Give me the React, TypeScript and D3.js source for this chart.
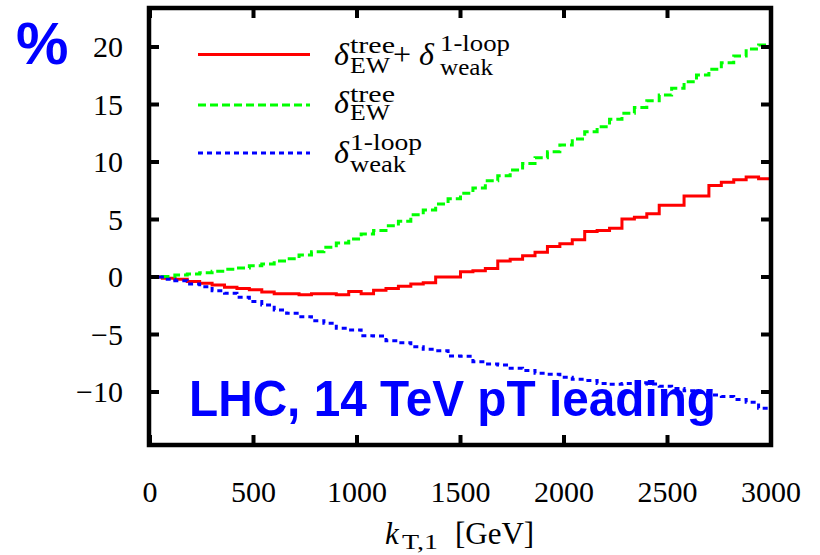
import React from "react";
import * as d3 from "d3";

// bin edges in GeV (60 GeV bins)
const kEdges = [0, 60, 120, 180, 240, 300, 360, 420, 480, 540, 600, 660, 720, 780, 840, 900, 960, 1020, 1080, 1140, 1200, 1260, 1320, 1380, 1440, 1500, 1560, 1620, 1680, 1740, 1800, 1860, 1920, 1980, 2040, 2100, 2160, 2220, 2280, 2340, 2400, 2460, 2520, 2580, 2640, 2700, 2760, 2820, 2880, 2940, 3000];

// delta_EW^tree + delta_weak^1-loop (%)
const redVals = [0, -0.1, -0.2, -0.4, -0.55, -0.7, -0.9, -1.0, -1.1, -1.3, -1.45, -1.45, -1.55, -1.45, -1.45, -1.55, -1.25, -1.45, -1.15, -1.0, -0.8, -0.6, -0.5, 0.0, 0.0, 0.45, 0.55, 0.75, 1.4, 1.55, 1.85, 2.15, 2.65, 2.9, 3.25, 3.95, 4.05, 4.25, 5.05, 5.2, 5.5, 6.25, 6.25, 7.05, 7.05, 7.95, 8.25, 8.45, 8.7, 8.55];

// delta_EW^tree (%)
const greenVals = [0.0, 0.05, 0.17, 0.26, 0.37, 0.5, 0.67, 0.78, 0.98, 1.13, 1.39, 1.59, 1.92, 2.2, 2.58, 2.95, 3.3, 3.75, 4.05, 4.45, 4.85, 5.42, 5.83, 6.35, 6.8, 7.28, 7.75, 8.37, 8.81, 9.3, 9.88, 10.37, 10.9, 11.48, 12.0, 12.64, 13.07, 13.71, 14.23, 14.75, 15.33, 15.83, 16.41, 16.98, 17.57, 18.06, 18.64, 19.22, 19.83, 20.17];

// delta_weak^1-loop (%)
const blueVals = [0, -0.2, -0.32, -0.6, -0.84, -1.19, -1.42, -1.77, -2.14, -2.43, -2.87, -3.16, -3.45, -3.8, -4.03, -4.46, -4.6, -5.1, -5.13, -5.54, -5.71, -6.06, -6.29, -6.41, -6.87, -6.9, -7.36, -7.56, -7.65, -7.94, -8.14, -8.38, -8.46, -8.72, -8.9, -9.01, -9.25, -9.33, -9.25, -9.2, -9.3, -9.5, -9.7, -9.9, -10.05, -10.26, -10.4, -10.65, -10.9, -11.42];

const xTicks = [0, 500, 1000, 1500, 2000, 2500, 3000];
const yTicks = [-10, -5, 0, 5, 10, 15, 20];

const W = 820;
const H = 555;
const left = 149;
const right = 771;
const top = 8;
const bottom = 445;

const x = d3.scaleLinear().domain([0, 3000]).range([150, 771]);
const y = d3.scaleLinear().domain([0, 20]).range([277, 47]);

function stepPath(vals: number[]) {
  const pts: [number, number][] = vals.map((v, i) => [kEdges[i], v]);
  pts.push([kEdges[vals.length], vals[vals.length - 1]]);
  return d3
    .line<[number, number]>()
    .x((d) => x(d[0]))
    .y((d) => y(d[1]))
    .curve(d3.curveStepAfter)(pts) as string;
}

const serif = "Liberation Serif, serif";
const sans = "Liberation Sans, Arial, sans-serif";

export default function App() {
  const tickLen = 10;
  return (
    <svg
      width={W}
      height={H}
      style={{ position: "absolute", left: 0, top: 0, background: "#fff" }}
    >
      <defs>
        <clipPath id="clip">
          <rect x={left} y={top} width={right - left} height={bottom - top} />
        </clipPath>
      </defs>
      <rect x={0} y={0} width={W} height={H} fill="#fff" />
      {/* curves */}
      <g clipPath="url(#clip)">
        <path d={stepPath(redVals)} fill="none" stroke="#ff0000" strokeWidth={3} />
        <path d={stepPath(greenVals)} fill="none" stroke="#00ff00" strokeWidth={3} strokeDasharray="8,4" />
        <path d={stepPath(blueVals)} fill="none" stroke="#0000ff" strokeWidth={3} strokeDasharray="5,4" />
      </g>
      {/* frame */}
      <rect x={left} y={top} width={right - left} height={bottom - top} fill="none" stroke="#000" strokeWidth={4.5} />
      {/* x ticks */}
      {xTicks.map((t) => (
        <g key={"xt" + t}>
          <line x1={x(t)} x2={x(t)} y1={bottom} y2={bottom - tickLen} stroke="#000" strokeWidth={4} />
          <line x1={x(t)} x2={x(t)} y1={top} y2={top + tickLen} stroke="#000" strokeWidth={4} />
          <text x={x(t)} y={502} textAnchor="middle" fontFamily={serif} fontSize={30} fill="#000">
            {t}
          </text>
        </g>
      ))}
      {/* y ticks */}
      {yTicks.map((t) => (
        <g key={"yt" + t}>
          <line x1={left} x2={left + tickLen} y1={y(t)} y2={y(t)} stroke="#000" strokeWidth={4} />
          <line x1={right} x2={right - tickLen} y1={y(t)} y2={y(t)} stroke="#000" strokeWidth={4} />
          <text x={123} y={y(t) + 10} textAnchor="end" fontFamily={serif} fontSize={30} fill="#000">
            {t < 0 ? "\u2212" + Math.abs(t) : String(t)}
          </text>
        </g>
      ))}
      {/* x axis title */}
      <text fontFamily={serif} fill="#000">
        <tspan x={385} y={544} fontSize={31} fontStyle="italic">k</tspan>
        <tspan x={402} y={549} fontSize={21} textLength={36} lengthAdjust="spacingAndGlyphs">T,1</tspan>
        <tspan x={455} y={544} fontSize={31}>[GeV]</tspan>
      </text>

      {/* legend */}
      <line x1={198} x2={310} y1={54.5} y2={54.5} stroke="#ff0000" strokeWidth={3} />
      <line x1={198} x2={310} y1={105} y2={105} stroke="#00ff00" strokeWidth={3} strokeDasharray="8,4" />
      <line x1={198} x2={310} y1={153} y2={153} stroke="#0000ff" strokeWidth={3} strokeDasharray="5,4" />

      <g fontFamily={serif} fill="#000">
        <text>
          <tspan x={334} y={65} fontSize={32} fontStyle="italic">δ</tspan>
          <tspan x={350} y={53} fontSize={23} textLength={45} lengthAdjust="spacingAndGlyphs">tree</tspan>
          <tspan x={350} y={73} fontSize={23} textLength={40} lengthAdjust="spacingAndGlyphs">EW</tspan>
          <tspan x={393} y={65} fontSize={32}>+</tspan>
          <tspan x={419} y={65} fontSize={32} fontStyle="italic">δ</tspan>
          <tspan x={440} y={51} fontSize={23} textLength={70} lengthAdjust="spacingAndGlyphs">1-loop</tspan>
          <tspan x={440} y={75} fontSize={23} textLength={53} lengthAdjust="spacingAndGlyphs">weak</tspan>
        </text>
        <text>
          <tspan x={334} y={113} fontSize={32} fontStyle="italic">δ</tspan>
          <tspan x={350} y={102} fontSize={23} textLength={45} lengthAdjust="spacingAndGlyphs">tree</tspan>
          <tspan x={350} y={120} fontSize={23} textLength={40} lengthAdjust="spacingAndGlyphs">EW</tspan>
        </text>
        <text>
          <tspan x={334} y={163} fontSize={32} fontStyle="italic">δ</tspan>
          <tspan x={350} y={150} fontSize={23} textLength={72} lengthAdjust="spacingAndGlyphs">1-loop</tspan>
          <tspan x={350} y={172} fontSize={23} textLength={56} lengthAdjust="spacingAndGlyphs">weak</tspan>
        </text>
      </g>

      {/* annotations */}
      <text x={16} y={64} fontFamily={sans} fontWeight="bold" fontSize={59} fill="#0000ff">
        %
      </text>
      <text
        x={189}
        y={416}
        fontFamily={sans}
        fontWeight="bold"
        fontSize={50}
        fill="#0000ff"
        textLength={527}
        lengthAdjust="spacingAndGlyphs"
      >
        LHC, 14 TeV pT leading
      </text>
    </svg>
  );
}
